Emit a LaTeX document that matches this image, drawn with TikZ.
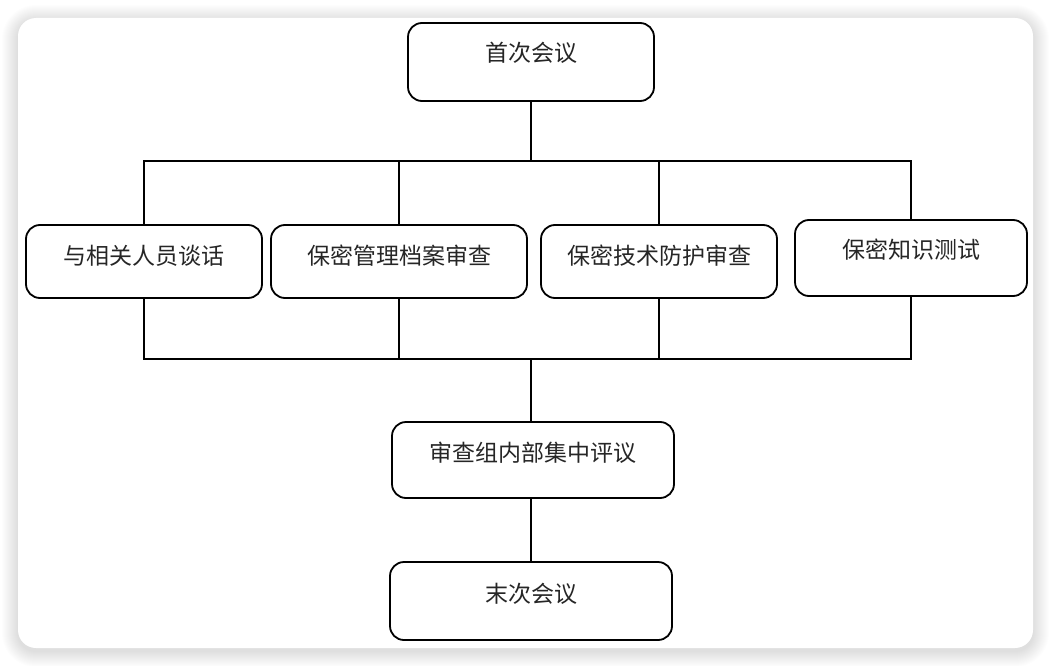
\documentclass[tikz,border=0pt]{standalone}
\usepackage{fontspec}
\newfontfamily\cjk{Noto Sans CJK SC}
\begin{document}
\begin{tikzpicture}[x=1pt,y=-1pt,
  box/.style={draw=black,line width=1.8pt,rounded corners=14pt,fill=white,inner sep=0pt},
  txt/.style={font=\cjk\fontsize{23}{27}\selectfont,text=black!85,inner sep=0pt},
  wire/.style={draw=black,line width=1.8pt}]
\useasboundingbox (0,0) rectangle (1052,666);
\fill[white] (0,0) rectangle (1052,666);
\foreach \i in {1,...,16}{
  \fill[black,opacity=0.007,rounded corners={18+\i}] (18-\i,18-\i+3) rectangle (1033+\i,648+\i+3);
}
\fill[white,rounded corners=18pt] (18,18) rectangle (1033,648);
% boxes
\node[box,minimum width=246pt,minimum height=78pt,label={[txt,yshift=9pt]center:首次会议}] (top) at (531,62) {};
\node[box,minimum width=236pt,minimum height=73pt,label={[txt,yshift=6pt]center:与相关人员谈话}] (b1) at (144,261.5) {};
\node[box,minimum width=256pt,minimum height=73pt,label={[txt,yshift=6pt]center:保密管理档案审查}] (b2) at (399,261.5) {};
\node[box,minimum width=236pt,minimum height=73pt,label={[txt,yshift=6pt]center:保密技术防护审查}] (b3) at (659,261.5) {};
\node[box,minimum width=232pt,minimum height=76pt,label={[txt,yshift=8pt]center:保密知识测试}] (b4) at (911,258) {};
\node[box,minimum width=282pt,minimum height=76pt,label={[txt,yshift=7pt]center:审查组内部集中评议}] (mid) at (533,460) {};
\node[box,minimum width=282pt,minimum height=78pt,label={[txt,yshift=7pt]center:末次会议}] (last) at (531,601) {};
% junctions
\coordinate (j1) at (531,161);
\coordinate (j2) at (531,359);
% connectors
\draw[wire] (top.south) -- (j1);
\draw[wire] (b1.north) -- (b1.north |- j1) -- (b4.north |- j1) -- (b4.north);
\draw[wire] (b2.north) -- (b2.north |- j1);
\draw[wire] (b3.north) -- (b3.north |- j1);
\draw[wire] (b1.south) -- (b1.south |- j2) -- (b4.south |- j2) -- (b4.south);
\draw[wire] (b2.south) -- (b2.south |- j2);
\draw[wire] (b3.south) -- (b3.south |- j2);
\draw[wire] (j2) -- (j2 |- mid.north);
\draw[wire] (mid.south -| last.north) -- (last.north);
\end{tikzpicture}
\end{document}
